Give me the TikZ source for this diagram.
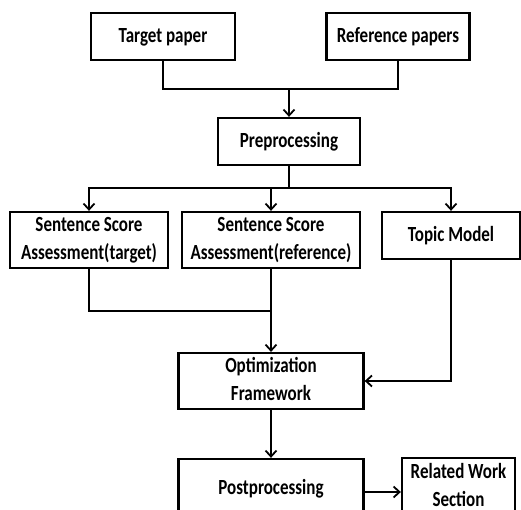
\documentclass[tikz,border=0pt]{standalone}
\usepackage{fontspec}
\setmainfont{Carlito}
\usepackage{graphicx}
\usepackage{tikz}
\usetikzlibrary{arrows.meta}
\newcommand{\boxtext}[1]{\scalebox{1}[1.27]{\begin{tabular}{@{}c@{}}#1\end{tabular}}}

\begin{document}
\begin{tikzpicture}[x=1pt,y=-1pt,
  box/.style={draw,line width=2.3pt,align=center,inner sep=0pt,
    font=\bfseries\fontsize{17}{22}\selectfont},
  conn/.style={line width=2.2pt},
  arr/.style={conn,-{Straight Barb[length=6pt,width=11pt,line width=1.8pt]}}]
  \useasboundingbox (0,0) rectangle (521,510);
  % inputs
  \node[box,minimum width=144pt,minimum height=47pt] (target) at (163,36.5) {\boxtext{Target paper}};
  \node[box,minimum width=143pt,minimum height=47pt] (refp) at (398,36.5) {\boxtext{Reference papers}};
  \node[box,minimum width=142pt,minimum height=47pt] (pre) at (289,141.5) {\boxtext{Preprocessing}};
  % scoring
  \node[box,minimum width=158pt,minimum height=56pt] (ssat) at (89,240) {\boxtext{Sentence Score\\Assessment(target)}};
  \node[box,minimum width=178pt,minimum height=56pt] (ssar) at (271,240) {\boxtext{Sentence Score\\Assessment(reference)}};
  \node[box,minimum width=138pt,minimum height=47pt] (topic) at (451,235.5) {\boxtext{Topic Model}};
  % output
  \node[box,minimum width=185pt,minimum height=54pt] (opt) at (271,381) {\boxtext{Optimization\\Framework}};
  \node[box,minimum width=185pt,minimum height=59pt] (post) at (271,488.5) {\boxtext{Postprocessing}};
  \node[box,minimum width=113pt,minimum height=57pt] (rws) at (458.5,486.5) {\boxtext{Related Work\\Section}};
  \coordinate (j1) at (289,89);
  \coordinate (j2) at (289,188);
  \coordinate (j3) at (271,311);
  \draw[conn] (target.south) |- (j1);
  \draw[conn] (refp.south) |- (j1);
  \draw[arr] (j1) -- (pre.north);
  \draw[conn] (pre.south) -- (j2);
  \draw[arr] (j2) -| (ssat.north);
  \draw[arr] (j2) -| (ssar.north);
  \draw[arr] (j2) -| (topic.north);
  \draw[conn] (ssat.south) |- (j3);
  \draw[arr] (ssar.south) -- (opt.north);
  \draw[arr] (topic.south) |- (opt.east);
  \draw[arr] (opt.south) -- (post.north);
  \draw[arr] ([yshift=-3.5pt]post.east) -- ([yshift=-3.5pt]post.east -| rws.west);
\end{tikzpicture}
\end{document}
